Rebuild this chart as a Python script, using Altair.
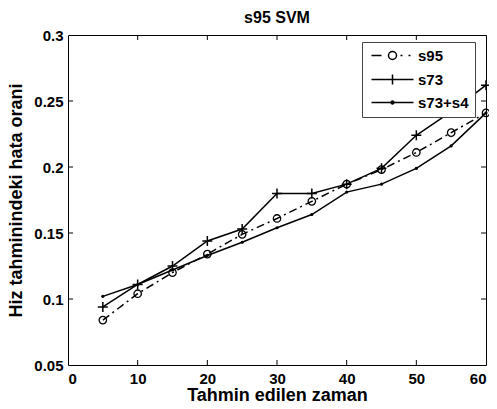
import altair as alt
import pandas as pd

# ---- data ----
x_vals = [5, 10, 15, 20, 25, 30, 35, 40, 45, 50, 55, 60]
s95 = [0.084, 0.104, 0.120, 0.134, 0.149, 0.161, 0.174, 0.187, 0.198, 0.211, 0.226, 0.241]
s73 = [0.094, 0.111, 0.125, 0.144, 0.153, 0.180, 0.180, 0.187, 0.199, 0.224, 0.242, 0.262]
s73_s4 = [0.102, 0.111, 0.122, 0.133, 0.143, 0.154, 0.164, 0.181, 0.187, 0.199, 0.216, 0.241]
series_names = ["s95", "s73", "s73+s4"]
x_ticks = [0, 10, 20, 30, 40, 50, 60]
y_ticks = [0.05, 0.1, 0.15, 0.2, 0.25, 0.3]

rows = []
for name, vals in zip(series_names, [s95, s73, s73_s4]):
    for xv, yv in zip(x_vals, vals):
        rows.append({"x": xv, "y": yv, "series": name})
df = pd.DataFrame(rows)

W, H = 418, 330
FONT = "Liberation Sans"

xs = alt.Scale(domain=[0, 60], nice=False, zero=False)
ys = alt.Scale(domain=[0.05, 0.3], nice=False, zero=False)

X = alt.X("x:Q", scale=xs, axis=alt.Axis(values=x_ticks, title="Tahmin edilen zaman",
                                          labelPadding=6, titleY=35,
                                          titleBaseline="alphabetic"))
Y = alt.Y("y:Q", scale=ys, axis=alt.Axis(values=y_ticks, format="~g",
                                          title="Hiz tahminindeki hata orani",
                                          labelPadding=5, titlePadding=8))

base = alt.Chart(df)


def sel(name):
    return base.transform_filter(alt.datum.series == name)


line95 = sel("s95").mark_line(color="black", strokeWidth=1.5, strokeDash=[8, 4, 2, 4]).encode(X, Y)
line73 = sel("s73").mark_line(color="black", strokeWidth=1.5).encode(X, Y)
line4 = sel("s73+s4").mark_line(color="black", strokeWidth=1.5).encode(X, Y)

p95 = sel("s95").mark_point(
    shape="circle", size=55, filled=False, color="black", strokeWidth=1.3, opacity=1
).encode(X, Y)
p73 = sel("s73").mark_point(
    shape="M-1,0H1M0,-1V1", size=100, filled=False, color="black", strokeWidth=1.5, opacity=1
).encode(X, Y)
p4 = sel("s73+s4").mark_point(
    shape="circle", size=10, filled=True, color="black", opacity=1
).encode(X, Y)

legend_paths = [
    "M-4.2,0H-2.2M-0.8,0A0.8,0.8 0 1,1 0.8,0A0.8,0.8 0 1,1 -0.8,0M1.6,0H2.0M3.2,0H3.6",
    "M-4.2,0H4.2M0,-1V1",
    "M-4.2,0H4.2M0.3,0A0.3,0.3 0 1,1 -0.3,0A0.3,0.3 0 1,1 0.3,0",
]
# legend-only layer (its marks have size 0; the legend sizes its own symbols)
leg = base.mark_point(
    filled=False, color="black", strokeWidth=1.5, opacity=1, size=0
).encode(
    X, Y,
    shape=alt.Shape("series:N",
                    scale=alt.Scale(domain=series_names, range=legend_paths),
                    legend=alt.Legend(title=None, orient="none", legendX=294, legendY=7,
                                      direction="vertical", strokeColor="#444",
                                      fillColor="white", padding=6, symbolSize=100,
                                      symbolOffset=17, labelOffset=18,
                                      labelFont=FONT, labelFontSize=15,
                                      labelFontWeight="bold", labelColor="black",
                                      rowPadding=7, symbolStrokeWidth=1.5,
                                      symbolStrokeColor="black",
                                      symbolFillColor="transparent")),
)

yt = pd.DataFrame({"y": y_ticks[1:-1]})
xt = pd.DataFrame({"x": x_ticks[1:-1]})
tick_style = dict(color="black", strokeWidth=1)
left_t = alt.Chart(yt).mark_rule(**tick_style).encode(
    y=alt.Y("y:Q", scale=ys), x=alt.value(0), x2=alt.value(5))
right_t = alt.Chart(yt).mark_rule(**tick_style).encode(
    y=alt.Y("y:Q", scale=ys), x=alt.value(W - 5), x2=alt.value(W))
bottom_t = alt.Chart(xt).mark_rule(**tick_style).encode(
    x=alt.X("x:Q", scale=xs), y=alt.value(H - 5), y2=alt.value(H))
top_t = alt.Chart(xt).mark_rule(**tick_style).encode(
    x=alt.X("x:Q", scale=xs), y=alt.value(0), y2=alt.value(5))

chart = alt.layer(line95, line73, line4, p95, p73, p4, leg,
                  left_t, right_t, bottom_t, top_t).properties(
    width=W, height=H,
    title=alt.Title("s95 SVM", font=FONT, fontSize=16, fontWeight="bold", color="black",
                    offset=2),
    padding={"left": 60, "top": 27, "right": 3, "bottom": 36},
    autosize=alt.AutoSizeParams(type="none"),
    background="white",
).configure_view(stroke="black", strokeWidth=1).configure_axis(
    domain=False, ticks=False, grid=False,
    labelFont=FONT, labelFontSize=15, labelFontWeight="bold", labelColor="black",
    titleFont=FONT, titleFontSize=18, titleFontWeight="bold", titleColor="black",
)

chart.save("out.html", embed_options={"renderer": "svg", "actions": False})
